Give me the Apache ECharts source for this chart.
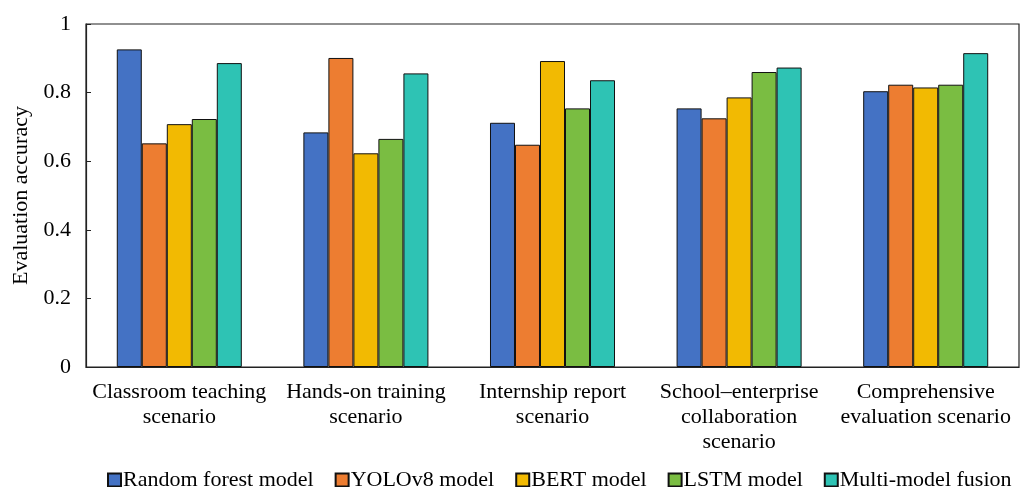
<!DOCTYPE html>
<html>
<head>
<meta charset="utf-8">
<script src="https://cdn.jsdelivr.net/npm/echarts@6/dist/echarts.min.js"></script>
<style>
  html, body { margin: 0; padding: 0; background: #fff; }
  #chart { width: 1023px; height: 487px; }
</style>
</head>
<body>
<div id="chart"></div>
<script>
// Scenario categories along the x axis
const categories = [
  'Classroom teaching\nscenario',
  'Hands-on training\nscenario',
  'Internship report\nscenario',
  'School\u2013enterprise\ncollaboration\nscenario',
  'Comprehensive\nevaluation scenario'
];

// Evaluation accuracy per model, one value per scenario
const randomForest = [0.926, 0.684, 0.712, 0.754, 0.804];
const yolov8       = [0.652, 0.901, 0.648, 0.725, 0.823];
const bert         = [0.708, 0.623, 0.892, 0.786, 0.815];
const lstm         = [0.723, 0.665, 0.754, 0.860, 0.823];
const fusion       = [0.886, 0.856, 0.836, 0.873, 0.915];

const seriesNames  = ['Random forest model', 'YOLOv8 model', 'BERT model', 'LSTM model', 'Multi-model fusion'];
const seriesValues = [randomForest, yolov8, bert, lstm, fusion];
const seriesColors = ['#4472C4', '#ED7D31', '#F2BA02', '#7ABD42', '#2EC3B4'];

const yTicks = { min: 0, max: 1, interval: 0.2 };

const FONT = '"Liberation Serif", "Times New Roman", serif';

const chart = echarts.init(document.getElementById('chart'), null, { renderer: 'canvas' });

chart.setOption({
  animation: false,
  backgroundColor: '#ffffff',
  textStyle: { fontFamily: FONT, color: '#000' },
  grid: {
    left: 86, right: 4, top: 24, bottom: 120,
    show: true, borderColor: '#222', borderWidth: 1.2, containLabel: false
  },
  legend: {
    data: seriesNames,
    left: 102,
    top: 464,
    itemWidth: 13,
    itemHeight: 13,
    itemGap: 21,
    icon: 'rect',
    textStyle: { fontFamily: FONT, fontSize: 22, color: '#000', padding: [0, 0, 0, -3] }
  },
  xAxis: {
    type: 'category',
    data: categories,
    axisLine: { lineStyle: { color: '#222', width: 1.2 } },
    axisTick: { show: false },
    axisLabel: {
      fontFamily: FONT, fontSize: 22, color: '#000',
      lineHeight: 25, margin: 13, interval: 0
    }
  },
  yAxis: {
    type: 'value',
    min: yTicks.min, max: yTicks.max, interval: yTicks.interval,
    name: 'Evaluation accuracy',
    nameLocation: 'middle',
    nameGap: 54,
    nameTextStyle: { fontFamily: FONT, fontSize: 22, color: '#000' },
    splitLine: { show: false },
    axisLine: { show: true, lineStyle: { color: '#222', width: 1.2 } },
    axisTick: { show: true, inside: true, length: 5, lineStyle: { color: '#222' } },
    axisLabel: { fontFamily: FONT, fontSize: 22, color: '#000', margin: 15 }
  },
  series: seriesNames.map((name, i) => ({
    name: name,
    type: 'bar',
    data: seriesValues[i],
    barGap: '0%',
    barCategoryGap: '33%',
    itemStyle: { color: seriesColors[i], borderColor: '#111', borderWidth: 1 }
  }))
});
</script>
</body>
</html>
